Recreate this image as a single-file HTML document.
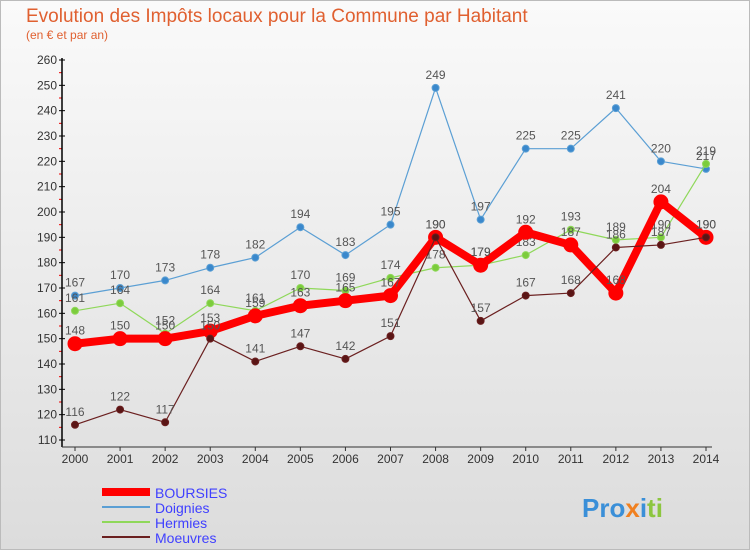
<!DOCTYPE html>
<html><head><meta charset="utf-8"><style>
body{margin:0;width:750px;height:550px;overflow:hidden;font-family:"Liberation Sans",sans-serif}
</style></head><body>
<svg id="c" width="750" height="550" xmlns="http://www.w3.org/2000/svg">
<defs><linearGradient id="bg" x1="0" y1="0" x2="0" y2="1"><stop offset="0" stop-color="#fafafa"/><stop offset="1" stop-color="#dcdcdc"/></linearGradient></defs>
<rect x="0.5" y="0.5" width="749" height="549" fill="url(#bg)" stroke="#bbb"/>
<text x="26" y="22" font-size="19" fill="#e06030">Evolution des Impôts locaux pour la Commune par Habitant</text>
<text x="26" y="39" font-size="12" fill="#e06030">(en € et par an)</text>
<g id="grid"></g><g id="series"></g>
<g>
<line x1="102" y1="492" x2="150" y2="492" stroke="#f00" stroke-width="8"/>
<text x="155" y="498" font-size="14" fill="#4040ff">BOURSIES</text>
<line x1="102" y1="507" x2="150" y2="507" stroke="#5b9fd4" stroke-width="2"/>
<text x="155" y="513" font-size="14" fill="#4040ff">Doignies</text>
<line x1="102" y1="522" x2="150" y2="522" stroke="#8fd85a" stroke-width="2"/>
<text x="155" y="528" font-size="14" fill="#4040ff">Hermies</text>
<line x1="102" y1="537" x2="150" y2="537" stroke="#6b2020" stroke-width="2"/>
<text x="155" y="543" font-size="14" fill="#4040ff">Moeuvres</text>
</g>
<text x="582" y="517" font-size="26" font-weight="bold" fill="#3a8fd8">Pro<tspan fill="#f08020">x</tspan><tspan fill="#3a8fd8">i</tspan><tspan fill="#8cc63f">ti</tspan></text>
</svg>
<script>
const years=[2000,2001,2002,2003,2004,2005,2006,2007,2008,2009,2010,2011,2012,2013,2014];
const yTicks=[110,120,130,140,150,160,170,180,190,200,210,220,230,240,250,260];
const boursies=[148,150,150,153,159,163,165,167,190,179,192,187,168,204,190];
const doignies=[167,170,173,178,182,194,183,195,249,197,225,225,241,220,217];
const hermies=[161,164,152,164,161,170,169,174,178,179,183,193,189,190,219];
const moeuvres=[116,122,117,150,141,147,142,151,190,157,167,168,186,187,190];
const NS="http://www.w3.org/2000/svg";
const X=i=>75+i*(631/14);
const Y=v=>440-(v-110)*(380/150);
function mk(t,a,p){const e=document.createElementNS(NS,t);for(const k in a)e.setAttribute(k,a[k]);p.appendChild(e);return e;}
const g=document.getElementById('grid');
yTicks.forEach(v=>{
 const l=mk('line',{x1:59,x2:65,y1:Y(v),y2:Y(v),stroke:'#000'},g);
 
 
 const t=mk('text',{x:57,y:Y(v)+4,'font-size':12,fill:'#333','text-anchor':'end'},g);
 t.textContent=v;
 
 
 if(v<260){const m=mk('line',{x1:59,x2:62,y1:Y(v+5),y2:Y(v+5),stroke:'#e00'},g);
 
 }
});
const ax=mk('line',{x1:62,x2:62,y1:58,y2:447,stroke:'#000','stroke-width':1.5},g);


const bx=mk('line',{x1:62,x2:712,y1:447,y2:447,stroke:'#333'},g);


years.forEach((y,i)=>{
 const t=mk('text',{x:X(i),y:463,'font-size':12,fill:'#333','text-anchor':'middle'},g);
 t.textContent=y;
 
 
 const k=mk('line',{x1:X(i),x2:X(i),y1:447,y2:451,stroke:'#333'},g);
 
 
});
const s=document.getElementById('series');
function draw(name,data,color,w,r,dot){
 const grp=mk('g',{},s);
 
 
 const pl=mk('polyline',{points:data.map((v,i)=>X(i)+','+Y(v)).join(' '),fill:'none',stroke:color,'stroke-width':w,'stroke-linejoin':'round'},grp);
 
 
 data.forEach((v,i)=>{
  const c=mk('circle',{cx:X(i),cy:Y(v),r:r,fill:dot,stroke:color,'stroke-width':1},grp);
  
  
  const t=mk('text',{x:X(i),y:Y(v)-9,'font-size':12,fill:'#555','text-anchor':'middle'},grp);
  t.textContent=v;
  
  
 });
}
draw('doignies',doignies,'#5b9fd4',1.2,3.5,'#3a88cc');
draw('hermies',hermies,'#8fd85a',1.2,3.5,'#7ccc3c');
draw('boursies',boursies,'#f00',8,7,'#f00');
draw('moeuvres',moeuvres,'#6b2020',1.2,3.5,'#5a1515');
</script>
</body></html>
